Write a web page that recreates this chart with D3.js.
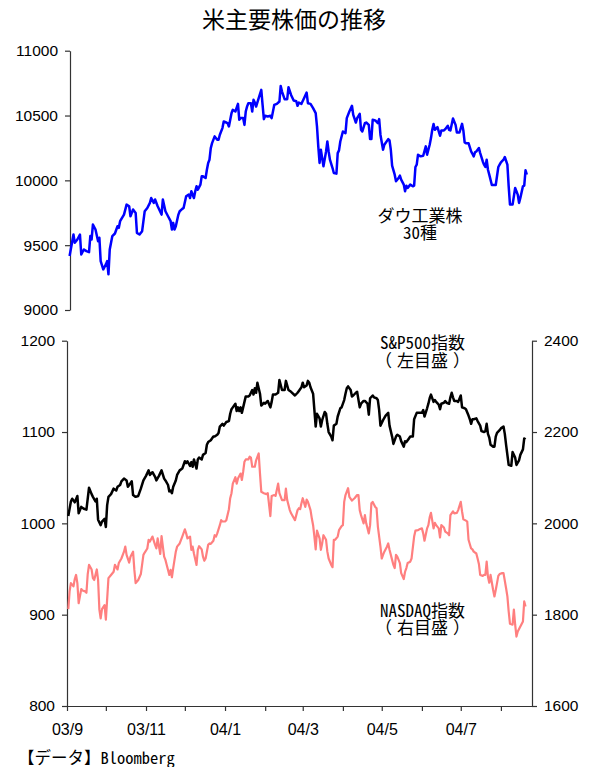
<!DOCTYPE html>
<html lang="ja">
<head>
<meta charset="UTF-8">
<title>米主要株価の推移</title>
<script src="https://cdn.jsdelivr.net/npm/d3@7"></script>
<style>

body {
	margin: 0;
	background: #fff;
}

.axis path, .axis line {
	stroke: #333;
	stroke-width: 1.2;
}

.axis text {
	font-family: "Liberation Sans", Arial, sans-serif;
	font-size: 15.5px;
	fill: #000;
}

.jp {
	font-family: "Noto Sans CJK JP", sans-serif;
	fill: #000;
}

/* half-width latin, like a gothic mono font */
.hw {
	font-feature-settings: "hwid" 1;
}

</style>
</head>
<body>

<svg id="chart" width="589" height="767"></svg>

<script>

// day offsets are counted from 2003-09-01
const startDate = new Date(2003, 8, 1);
const endDay = 359;

// [day, close]
const dow = [[2,9416],[5,9582],[6,9518],[8,9544],[10,9582],[11,9428],[13,9467],[15,9454],[17,9446],[18,9570],[19,9544],[20,9659],[22,9621],[24,9531],[25,9557],[26,9377],[28,9313],[30,9352],[31,9377],[32,9275],[33,9467],[35,9570],[37,9590],[39,9646],[40,9634],[41,9685],[44,9736],[46,9813],[48,9800],[49,9723],[51,9775],[53,9749],[54,9595],[56,9582],[58,9608],[60,9762],[62,9787],[64,9826],[65,9864],[67,9826],[68,9852],[70,9800],[73,9736],[74,9852],[76,9762],[78,9723],[80,9685],[81,9621],[82,9672],[83,9621],[84,9646],[86,9736],[87,9762],[89,9780],[90,9787],[92,9877],[94,9890],[95,9864],[96,9916],[98,9864],[99,9916],[100,9954],[101,9928],[103,9967],[104,10031],[105,10031],[107,10018],[108,10082],[109,10134],[110,10159],[111,10249],[112,10287],[114,10339],[116,10313],[117,10313],[118,10352],[120,10403],[121,10454],[123,10446],[124,10441],[125,10416],[127,10518],[128,10544],[130,10531],[132,10590],[133,10467],[134,10480],[136,10480],[137,10428],[138,10531],[139,10569],[140,10595],[142,10595],[143,10531],[144,10621],[145,10600],[146,10569],[148,10634],[150,10698],[151,10582],[152,10472],[153,10498],[155,10493],[157,10498],[158,10480],[160,10582],[162,10590],[164,10608],[165,10728],[166,10685],[168,10626],[170,10626],[171,10718],[173,10659],[175,10616],[177,10610],[178,10575],[179,10600],[181,10590],[183,10634],[185,10677],[186,10595],[188,10590],[190,10557],[192,10518],[193,10416],[194,10262],[195,10134],[196,10236],[197,10172],[198,10108],[200,10223],[201,10300],[202,10223],[203,10159],[205,10095],[206,10057],[208,10052],[209,10210],[210,10231],[211,10300],[213,10377],[215,10364],[216,10480],[218,10531],[220,10575],[221,10505],[223,10446],[224,10480],[226,10513],[227,10390],[228,10377],[230,10441],[231,10446],[233,10428],[234,10318],[235,10318],[236,10467],[238,10462],[240,10441],[241,10472],[242,10352],[244,10236],[245,10275],[248,10318],[249,10308],[250,10236],[251,10113],[253,10044],[254,9993],[256,10018],[257,10036],[258,10005],[260,9967],[261,9916],[262,9959],[263,9941],[265,9967],[267,9954],[268,9959],[269,10103],[270,10121],[271,10198],[273,10185],[275,10190],[277,10262],[278,10198],[280,10275],[281,10326],[282,10390],[283,10434],[284,10390],[286,10410],[287,10377],[288,10344],[289,10385],[291,10385],[292,10395],[294,10421],[295,10390],[296,10385],[298,10477],[300,10428],[301,10369],[303,10369],[305,10436],[306,10385],[307,10293],[308,10287],[310,10287],[312,10223],[313,10205],[314,10185],[315,10216],[316,10223],[318,10249],[319,10210],[321,10146],[322,10121],[323,10103],[324,10159],[325,10082],[326,10044],[328,9964],[330,9964],[331,9964],[333,10103],[334,10121],[335,10139],[337,10159],[338,10180],[340,10121],[341,9954],[342,9813],[344,9813],[346,9941],[348,9890],[349,9826],[350,9864],[352,9954],[353,9959],[354,10077],[355,10044]];

const sp500 = [[1,1008],[3,1024],[4,1027],[6,1023],[8,1030],[9,1011],[11,1018],[13,1016],[15,1015],[16,1027],[17,1039],[19,1032],[20,1029],[22,1024],[23,1027],[24,1004],[26,998],[27,1002],[29,1005],[30,996],[31,1020],[32,1029],[34,1032],[36,1038],[38,1036],[39,1040],[41,1042],[42,1046],[44,1049],[46,1047],[47,1040],[49,1044],[50,1046],[51,1031],[53,1029],[55,1030],[57,1038],[59,1047],[61,1052],[63,1058],[64,1053],[66,1056],[68,1051],[69,1047],[71,1052],[73,1058],[75,1049],[76,1047],[78,1042],[79,1035],[80,1036],[81,1033],[82,1040],[84,1047],[85,1053],[87,1058],[89,1060],[91,1068],[92,1066],[93,1068],[95,1063],[96,1067],[97,1062],[98,1070],[100,1060],[101,1070],[102,1072],[104,1070],[105,1075],[107,1077],[108,1086],[109,1089],[111,1091],[113,1095],[114,1095],[116,1097],[117,1099],[118,1106],[120,1109],[121,1107],[123,1111],[125,1112],[126,1120],[127,1125],[128,1127],[130,1131],[131,1123],[132,1127],[133,1123],[134,1127],[135,1121],[137,1133],[138,1139],[140,1139],[141,1140],[143,1146],[144,1141],[145,1148],[146,1143],[147,1154],[149,1142],[150,1129],[152,1132],[153,1131],[155,1134],[157,1127],[158,1133],[159,1141],[161,1141],[163,1143],[164,1157],[166,1146],[168,1146],[169,1156],[171,1146],[173,1144],[176,1140],[178,1143],[179,1145],[181,1149],[182,1154],[183,1149],[185,1151],[186,1156],[187,1154],[188,1149],[190,1142],[191,1124],[192,1106],[193,1120],[195,1115],[196,1106],[197,1113],[199,1122],[200,1120],[201,1109],[202,1100],[204,1095],[205,1091],[206,1107],[208,1109],[209,1117],[211,1126],[212,1127],[214,1135],[215,1142],[216,1148],[217,1150],[219,1146],[220,1139],[221,1140],[223,1143],[224,1144],[226,1127],[227,1131],[229,1134],[230,1134],[232,1131],[233,1119],[234,1137],[236,1140],[237,1138],[239,1137],[240,1135],[241,1124],[242,1107],[244,1113],[246,1118],[248,1121],[249,1107],[251,1095],[252,1087],[254,1095],[255,1097],[257,1095],[258,1090],[260,1084],[261,1090],[262,1089],[264,1093],[265,1095],[267,1095],[268,1114],[270,1121],[272,1121],[274,1121],[275,1124],[276,1117],[278,1126],[279,1131],[280,1137],[281,1141],[283,1133],[284,1135],[285,1133],[287,1130],[288,1125],[289,1131],[291,1132],[292,1134],[293,1132],[295,1131],[296,1138],[297,1143],[298,1138],[299,1134],[301,1134],[302,1133],[304,1140],[305,1127],[307,1126],[308,1125],[310,1118],[311,1114],[312,1109],[313,1114],[314,1114],[316,1115],[317,1112],[319,1107],[320,1101],[322,1100],[323,1101],[324,1109],[325,1098],[326,1094],[327,1086],[329,1084],[330,1084],[331,1095],[332,1099],[334,1102],[335,1104],[337,1106],[338,1098],[339,1086],[341,1064],[343,1063],[344,1078],[346,1072],[347,1064],[349,1069],[350,1075],[352,1081],[353,1093],[354,1092]];

const nasdaq = [[1,1812],[2,1851],[3,1869],[5,1862],[6,1878],[7,1887],[8,1869],[9,1825],[11,1856],[12,1853],[14,1851],[15,1848],[16,1889],[17,1909],[19,1899],[20,1880],[21,1876],[23,1899],[24,1876],[25,1811],[26,1792],[27,1812],[29,1821],[30,1789],[31,1834],[32,1880],[34,1887],[36,1894],[37,1909],[39,1899],[40,1913],[42,1923],[44,1938],[45,1949],[46,1931],[48,1914],[49,1927],[51,1938],[52,1898],[53,1869],[55,1876],[57,1889],[59,1931],[60,1936],[62,1945],[63,1964],[64,1960],[66,1971],[68,1953],[69,1945],[70,1967],[72,1933],[73,1972],[75,1927],[76,1920],[77,1909],[79,1887],[80,1898],[81,1882],[82,1902],[84,1938],[85,1949],[87,1956],[89,1971],[91,1987],[92,1978],[93,1967],[95,1971],[96,1942],[97,1949],[98,1934],[100,1909],[101,1942],[102,1950],[104,1943],[105,1927],[106,1918],[107,1923],[109,1953],[110,1956],[111,1955],[113,1962],[114,1974],[115,1971],[116,1978],[118,1996],[119,2007],[120,2004],[122,2004],[123,2007],[125,2031],[126,2055],[127,2066],[128,2087],[130,2101],[131,2087],[132,2098],[134,2109],[135,2095],[136,2113],[137,2135],[138,2140],[140,2140],[141,2146],[142,2144],[143,2124],[145,2124],[146,2138],[148,2153],[149,2109],[150,2069],[152,2066],[154,2064],[155,2066],[157,2016],[158,2060],[160,2062],[161,2060],[163,2087],[164,2066],[166,2051],[168,2051],[169,2076],[170,2051],[172,2029],[173,2022],[176,2007],[177,2018],[178,2029],[179,2033],[180,2031],[181,2044],[182,2055],[184,2036],[185,2052],[186,2047],[188,2029],[189,2011],[190,1996],[191,1971],[192,1943],[193,1984],[195,1967],[196,1942],[197,1956],[198,1974],[200,1964],[201,1938],[202,1923],[204,1909],[205,1904],[206,1964],[207,1964],[209,1971],[210,1985],[212,1994],[213,1996],[214,2047],[215,2062],[217,2077],[218,2058],[220,2050],[222,2055],[224,2062],[225,2062],[226,2029],[227,2018],[229,2000],[230,2018],[231,2000],[233,1978],[234,1996],[235,2044],[236,2047],[238,2036],[239,2033],[240,1993],[242,1949],[243,1923],[244,1931],[245,1938],[247,1949],[248,1956],[249,1942],[251,1920],[252,1909],[253,1902],[254,1931],[255,1927],[257,1913],[258,1891],[260,1878],[261,1894],[262,1902],[263,1913],[265,1916],[266,1923],[268,1971],[269,1984],[271,1985],[272,1987],[274,1989],[275,1978],[276,1962],[278,1989],[279,1996],[280,2013],[281,2023],[283,1989],[284,2001],[285,1996],[287,1989],[288,1969],[289,1996],[291,1991],[292,1982],[294,1978],[295,1974],[296,2018],[298,2026],[299,2022],[301,2023],[302,2029],[304,2047],[305,2026],[306,2009],[308,2006],[309,2004],[310,1964],[312,1945],[313,1943],[314,1938],[316,1934],[317,1923],[318,1911],[319,1887],[321,1885],[322,1887],[323,1887],[324,1916],[325,1883],[326,1870],[327,1887],[329,1854],[330,1840],[331,1854],[332,1869],[333,1885],[334,1889],[336,1891],[337,1891],[339,1858],[340,1840],[341,1807],[342,1780],[344,1778],[345,1811],[346,1778],[347,1752],[348,1763],[350,1774],[352,1785],[353,1829],[354,1818]];

const dowTicks = [9000, 9500, 10000, 10500, 11000];
const spTicks = [800, 900, 1000, 1100, 1200];
const nasdaqTicks = [1600, 1800, 2000, 2200, 2400];

const title = "米主要株価の推移";
const dowLabel = ["ダウ工業株", "30種"];
const spLabel = ["S&P500指数", "（左目盛）"];
const nasdaqLabel = ["NASDAQ指数", "（右目盛）"];
const source = "【データ】Bloomberg";


const svg = d3.select("#chart");
const toDate = d => d3.timeDay.offset(startDate, d);

const x = d3.scaleTime()
	.domain([startDate, toDate(endDay)])
	.range([67, 532]);

const yDow = d3.scaleLinear().domain([9000, 11000]).range([310, 50.7]);
const ySp = d3.scaleLinear().domain([800, 1200]).range([706, 340.7]);
const yNas = d3.scaleLinear().domain([1600, 2400]).range([706, 340.7]);

// splits a string into latin / japanese runs; latin gets half-width glyphs,
// full-width brackets get a little air like the old gothic font had
function fillRuns(textSel, str) {
	const runs = str.match(/[\x21-\x7e]+|（|）|[^\x21-\x7e（）]+/g);
	runs.forEach((r, i) => {
		const sp = textSel.append("tspan").text(r);
		if (/^[\x21-\x7e]+$/.test(r)) sp.attr("class", "hw");
		if (r === "）" || (i > 0 && runs[i - 1] === "（")) sp.attr("dx", 5);
	});
}

// title
svg.append("text")
	.attr("class", "jp")
	.attr("x", 294)
	.attr("y", 27.5)
	.attr("text-anchor", "middle")
	.style("font-size", "23px")
	.text(title);

// upper panel axis (sits a few px right of the lower one)
svg.append("g")
	.attr("class", "axis")
	.attr("transform", "translate(70,0)")
	.call(d3.axisLeft(yDow).tickValues(dowTicks).tickSize(5).tickSizeOuter(0).tickPadding(7).tickFormat(d3.format("d")));

// lower panel axes
svg.append("g")
	.attr("class", "axis")
	.attr("transform", "translate(67,0)")
	.call(d3.axisLeft(ySp).tickValues(spTicks).tickSize(5).tickSizeOuter(0).tickPadding(7).tickFormat(d3.format("d")));

svg.append("g")
	.attr("class", "axis")
	.attr("transform", "translate(532,0)")
	.call(d3.axisRight(yNas).tickValues(nasdaqTicks).tickSize(5).tickSizeOuter(0).tickPadding(7).tickFormat(d3.format("d")));

const monthFmt = d3.timeFormat("%y/%-m");
const xAxis = svg.append("g")
	.attr("class", "axis xaxis")
	.attr("transform", "translate(0,706)")
	.call(d3.axisBottom(x)
		.ticks(d3.timeMonth.every(1))
		.tickSize(5)
		.tickSizeOuter(0)
		.tickPadding(13)
		.tickFormat(d => d.getMonth() % 2 === 0 ? monthFmt(d) : ""));

xAxis.selectAll("text")
	.attr("class", "jp hw")
	.style("font-size", "16px");

// lines
function drawLine(data, yScale, color, width) {
	const line = d3.line()
		.x(d => x(toDate(d[0])))
		.y(d => yScale(d[1]));
	svg.append("path")
		.datum(data)
		.attr("d", line)
		.attr("fill", "none")
		.attr("stroke", color)
		.attr("stroke-width", width)
		.attr("stroke-linejoin", "round");
}

drawLine(nasdaq, yNas, "#ff7f7f", 2.2);
drawLine(sp500, ySp, "#000", 2.5);
drawLine(dow, yDow, "#0000ff", 2.5);

// series labels
function label(lines, cx, y0) {
	lines.forEach((str, i) => {
		const t = svg.append("text")
			.attr("class", "jp")
			.attr("x", cx)
			.attr("y", y0 + i * 17.5)
			.attr("text-anchor", "middle")
			.style("font-size", "17px");
		fillRuns(t, str);
	});
}

label(dowLabel, 420, 221.5);
label(spLabel, 422.5, 349);
label(nasdaqLabel, 422.5, 616.5);

// source
const src = svg.append("text")
	.attr("class", "jp")
	.attr("x", 18)
	.attr("y", 763.5)
	.style("font-size", "16.5px");
fillRuns(src, source);

</script>
</body>
</html>
